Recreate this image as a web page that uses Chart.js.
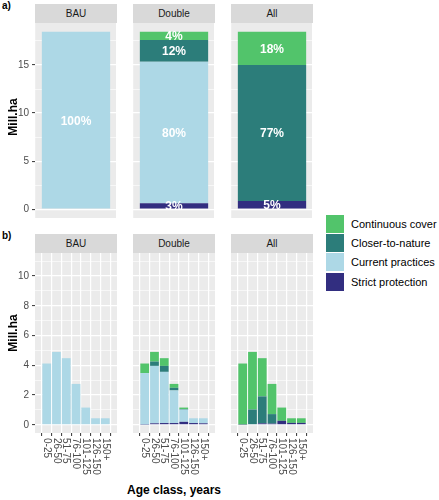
<!DOCTYPE html>
<html>
<head>
<meta charset="utf-8">
<script src="https://cdn.jsdelivr.net/npm/chart.js@4.4.1/dist/chart.umd.min.js"></script>
<style>
body { margin: 0; background: #fff; font-family: "Liberation Sans", Arial, sans-serif; }
#wrap { position: relative; width: 439px; height: 500px; overflow: hidden; }
#wrap canvas { position: absolute; }
.strip { position: absolute; background: #D9D9D9; color: #1A1A1A; font-size: 10px; text-align: center; height: 19px; line-height: 19px; }
.tag { position: absolute; font-size: 10px; font-weight: bold; color: #000; }
.ytitle { position: absolute; font-size: 12px; font-weight: bold; color: #000; transform: translate(-50%, -50%) rotate(-90deg); white-space: nowrap; }
.xtitle { position: absolute; font-size: 12px; font-weight: bold; color: #000; transform: translate(-50%, -50%); white-space: nowrap; }
.leg { position: absolute; left: 326px; font-size: 11px; color: #000; height: 18px; line-height: 18px; white-space: nowrap; }
.leg span { display: inline-block; width: 18px; height: 18px; vertical-align: top; margin-right: 7px; }
</style>
</head>
<body>
<div id="wrap"></div>
<script>
const FONT = '"Liberation Sans", Arial, sans-serif';

const scenarios = ['BAU', 'Double', 'All'];
// stacking order, bottom to top
const seriesNames = ['Strict protection', 'Current practices', 'Closer-to-nature', 'Continuous cover'];
const seriesColors = ['#322E80', '#ADD8E6', '#2C7D7A', '#52C46B'];

// a) total area, Mill.ha (strict, current, closer, continuous)
const totalBAU = [0, 18.45, 0, 0];
const totalDouble = [0.62, 14.73, 2.25, 0.85];
const totalAll = [0.86, 0, 14.14, 3.45];
const pctBAU = ['', '100%', '', ''];
const pctDouble = ['3%', '80%', '12%', '4%'];
const pctAll = ['5%', '', '77%', '18%'];
const yTicksA = [0, 5, 10, 15];

// b) area by age class, Mill.ha
const ageClasses = ['0-25', '26-50', '51-75', '76-100', '101-125', '126-150', '150+'];
const bauStrict = [0, 0, 0, 0, 0, 0, 0];
const bauCurrent = [4.12, 4.9, 4.48, 2.75, 1.16, 0.44, 0.44];
const bauCloser = [0, 0, 0, 0, 0, 0, 0];
const bauContinuous = [0, 0, 0, 0, 0, 0, 0];
const doubleStrict = [0.02, 0.1, 0.12, 0.12, 0.2, 0.12, 0.1];
const doubleCurrent = [3.46, 3.86, 3.44, 2.19, 0.82, 0.32, 0.34];
const doubleCloser = [0, 0.29, 0.4, 0.18, 0.04, 0, 0];
const doubleContinuous = [0.64, 0.65, 0.52, 0.26, 0.1, 0, 0];
const allStrict = [0.02, 0.04, 0.1, 0.08, 0.27, 0.13, 0.13];
const allCurrent = [0, 0, 0, 0, 0, 0, 0];
const allCloser = [0, 0.99, 1.81, 0.64, 0, 0, 0];
const allContinuous = [4.1, 3.87, 2.57, 2.03, 0.89, 0.31, 0.31];
const yTicksB = [0, 2, 4, 6, 8, 10];

const wrap = document.getElementById('wrap');
const panelLeft = [35, 133, 231];
const panelW = 82;

function addDiv(cls, text, style) {
  const d = document.createElement('div');
  d.className = cls;
  d.textContent = text;
  Object.assign(d.style, style);
  wrap.appendChild(d);
  return d;
}

const panelPlugin = {
  id: 'panel',
  beforeDraw(chart) {
    const a = chart.chartArea;
    const ctx = chart.ctx;
    ctx.save();
    ctx.fillStyle = '#EBEBEB';
    ctx.fillRect(a.left, a.top, a.right - a.left, a.bottom - a.top);
    ctx.restore();
  },
  afterDraw(chart) {
    const ctx = chart.ctx;
    const o = chart.options.plugins.panel;
    if (o.pct) {
      ctx.save();
      ctx.fillStyle = '#FFFFFF';
      ctx.font = 'bold 12px ' + FONT;
      ctx.textAlign = 'center';
      ctx.textBaseline = 'middle';
      o.pct.forEach((lab, di) => {
        if (!lab) return;
        const el = chart.getDatasetMeta(di).data[0];
        ctx.fillText(lab, el.x, (el.y + el.base) / 2 + 1);
      });
      ctx.restore();
    }
    if (o.xLabels) {
      const xs = chart.scales.x;
      ctx.save();
      ctx.fillStyle = '#4D4D4D';
      ctx.font = '10px ' + FONT;
      ctx.textAlign = 'left';
      ctx.textBaseline = 'middle';
      o.xLabels.forEach((lab, i) => {
        ctx.save();
        ctx.translate(xs.getPixelForValue(i + 1), chart.chartArea.bottom + 5);
        ctx.rotate(Math.PI / 2);
        ctx.fillText(lab, 0, 0);
        ctx.restore();
      });
      ctx.restore();
    }
  }
};

function makePanel(p) {
  const axisW = p.showY ? 35 : 0;
  const c = document.createElement('canvas');
  c.width = axisW + panelW;
  c.height = p.height;
  c.style.left = (p.left - axisW) + 'px';
  c.style.top = p.top + 'px';
  wrap.appendChild(c);

  const allY = [];
  for (let i = 0; i < p.majors.length; i++) {
    allY.push(p.majors[i]);
    allY.push(p.majors[i] + p.step / 2);
  }
  const isMajor = v => p.majors.includes(v);
  const xTicks = p.xValues;

  const datasets = p.series.map((vals, di) => ({
    label: seriesNames[di],
    data: vals.map((v, i) => ({ x: xTicks[i], y: v || null })),
    backgroundColor: seriesColors[di],
    borderWidth: 0,
    barPercentage: p.barPct,
    categoryPercentage: 1
  }));

  new Chart(c, {
    type: 'bar',
    data: { datasets },
    plugins: [panelPlugin],
    options: {
      animation: false,
      responsive: false,
      maintainAspectRatio: false,
      layout: { padding: { left: 0, right: 0, top: 0, bottom: p.padBottom } },
      plugins: {
        legend: { display: false },
        tooltip: { enabled: false },
        panel: { pct: p.pct, xLabels: p.xLabels }
      },
      scales: {
        x: {
          type: 'linear',
          min: p.xMin,
          max: p.xMax,
          stacked: true,
          afterBuildTicks: s => { s.ticks = xTicks.map(v => ({ value: v })); },
          afterFit: s => { s.height = p.xTick; s.paddingLeft = 0; s.paddingRight = 0; },
          ticks: { display: false },
          grid: { color: '#FFFFFF', lineWidth: 1.2, drawTicks: p.xTick > 0, tickLength: p.xTick, tickColor: '#333333', tickWidth: 1 },
          border: { display: false }
        },
        y: {
          min: p.yMin,
          max: p.yMax,
          stacked: true,
          afterBuildTicks: s => { s.ticks = allY.map(v => ({ value: v })); },
          afterFit: s => { s.width = axisW; s.paddingTop = 0; s.paddingBottom = 0; },
          ticks: {
            display: p.showY,
            padding: 3,
            color: '#4D4D4D',
            font: { size: 10, family: FONT },
            callback: v => isMajor(v) ? String(v) : ''
          },
          grid: {
            color: '#FFFFFF',
            lineWidth: ctx => isMajor(ctx.tick.value) ? 1.2 : 0.6,
            drawTicks: p.showY,
            tickLength: 3,
            tickWidth: 1,
            tickColor: ctx => isMajor(ctx.tick.value) ? '#333333' : 'rgba(0,0,0,0)'
          },
          border: { display: false }
        }
      }
    }
  });
}

// a) panels
const topSeries = [totalBAU, totalDouble, totalAll];
const topPct = [pctBAU, pctDouble, pctAll];
scenarios.forEach((sc, k) => {
  addDiv('strip', sc, { left: panelLeft[k] + 'px', top: '4px', width: panelW + 'px' });
  makePanel({
    left: panelLeft[k], top: 23, height: 195, padBottom: 0, showY: k === 0,
    yMin: -0.92, yMax: 19.37, majors: yTicksA, step: 5,
    xMin: 0.4, xMax: 1.6, xValues: [1], xTick: 0, barPct: 0.833,
    series: topSeries[k].map(v => [v]),
    pct: topPct[k]
  });
});

// b) panels
const botSeries = [
  [bauStrict, bauCurrent, bauCloser, bauContinuous],
  [doubleStrict, doubleCurrent, doubleCloser, doubleContinuous],
  [allStrict, allCurrent, allCloser, allContinuous]
];
scenarios.forEach((sc, k) => {
  addDiv('strip', sc, { left: panelLeft[k] + 'px', top: '234px', width: panelW + 'px' });
  makePanel({
    left: panelLeft[k], top: 253, height: 222, padBottom: 39, showY: k === 0,
    yMin: -0.55, yMax: 11.55, majors: yTicksB, step: 2,
    xMin: 0.4, xMax: ageClasses.length + 0.6, xValues: ageClasses.map((a, i) => i + 1), xTick: 3, barPct: 0.9,
    series: botSeries[k],
    xLabels: ageClasses
  });
});

addDiv('tag', 'a)', { left: '2px', top: '0px' });
addDiv('tag', 'b)', { left: '2px', top: '230px' });
addDiv('ytitle', 'Mill.ha', { left: '13px', top: '117px' });
addDiv('ytitle', 'Mill.ha', { left: '13px', top: '333px' });
addDiv('xtitle', 'Age class, years', { left: '174px', top: '490px' });

// legend, top to bottom = reverse of stacking
for (let i = seriesNames.length - 1, r = 0; i >= 0; i--, r++) {
  const d = document.createElement('div');
  d.className = 'leg';
  d.style.top = (215 + r * 19.2) + 'px';
  const key = document.createElement('span');
  key.style.background = seriesColors[i];
  d.appendChild(key);
  d.appendChild(document.createTextNode(seriesNames[i]));
  wrap.appendChild(d);
}
</script>
</body>
</html>
